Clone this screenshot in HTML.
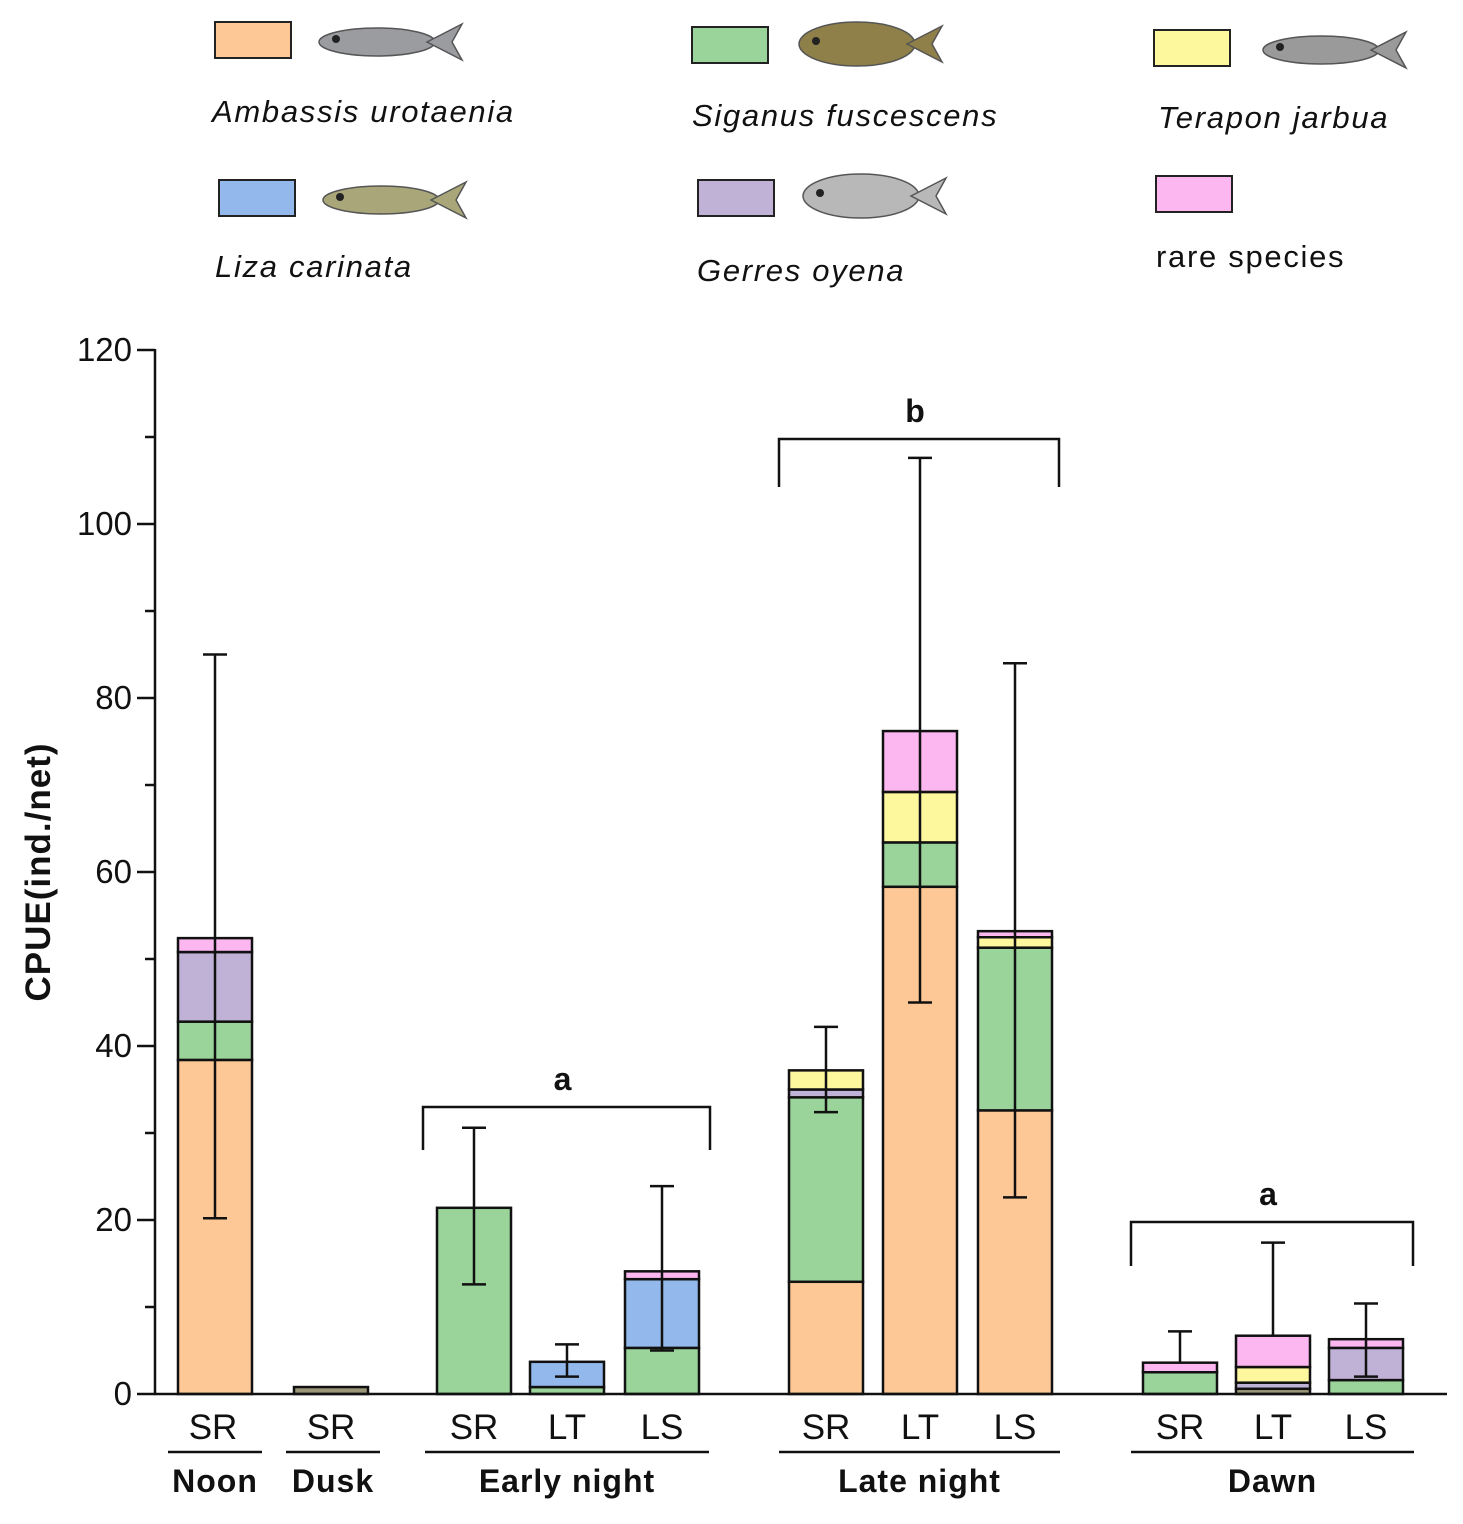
<!DOCTYPE html>
<html><head><meta charset="utf-8"><style>
body{margin:0;background:#fff;}
svg text{font-family:"Liberation Sans",Arial,sans-serif;}
</style></head><body>
<svg id="chart" width="1463" height="1519" viewBox="0 0 1463 1519" xmlns="http://www.w3.org/2000/svg">
<g id="legend"></g>
<g id="plot"></g>
</svg>
<script>
const categories = ["Noon SR","Dusk SR","Early SR","Early LT","Early LS","Late SR","Late LT","Late LS","Dawn SR","Dawn LT","Dawn LS"];
const seriesNames = ["Other","Ambassis urotaenia","Siganus fuscescens","Liza carinata","Gerres oyena","Terapon jarbua","rare species"];
const other    = [0,0.8,0,0,0,0,0,0,0,0.6,0];
const ambassis = [38.4,0,0,0,0,12.9,58.3,32.6,0,0,0];
const siganus  = [4.4,0,21.4,0.8,5.3,21.2,5.1,18.7,2.5,0,1.6];
const liza     = [0,0,0,2.9,7.9,0,0,0,0,0,0];
const gerres   = [8.0,0,0,0,0,0.9,0,0,0,0.7,3.7];
const terapon  = [0,0,0,0,0,2.2,5.8,1.2,0,1.8,0];
const rare     = [1.6,0,0,0,0.9,0,7.0,0.7,1.1,3.6,1.0];
const errLow   = [20.2,null,12.6,2.0,5.0,32.4,45.0,22.6,null,null,2.0];
const errHigh  = [85.0,null,30.6,5.7,23.9,42.2,107.6,84.0,7.2,17.4,10.4];
const yTicks   = [0,20,40,60,80,100,120];
const subLabels = ["SR","SR","SR","LT","LS","SR","LT","LS","SR","LT","LS"];

const colors=["#9a9677","#fdc896","#9bd49a","#92b8ec","#bfb2d6","#fdf79e","#fcb6f0"];
const seriesData=[other,ambassis,siganus,liza,gerres,terapon,rare];
const NS="http://www.w3.org/2000/svg";
const centers=[215,331,474,567,662,826,920,1015,1180,1273,1366];
const barW=74;
function y(v){return 1394-v*(1044/120);}
function el(tag,attrs,parent,text){const e=document.createElementNS(NS,tag);for(const k in attrs)e.setAttribute(k,attrs[k]);if(text!==undefined)e.textContent=text;parent.appendChild(e);return e;}
const plot=document.getElementById('plot');
const legend=document.getElementById('legend');

categories.forEach((c,i)=>{
  let base=0;
  seriesData.forEach((s,k)=>{
    const v=s[i]; if(!v) return;
    const r=el('rect',{x:centers[i]-barW/2,y:y(base+v),width:barW,height:y(base)-y(base+v),fill:colors[k],stroke:'#111','stroke-width':2.5},plot);
    
    
    base+=v;
  });
});
categories.forEach((c,i)=>{
  const hi=errHigh[i]; if(hi==null) return;
  let tot=0; seriesData.forEach(s=>tot+=s[i]);
  const lo=errLow[i]==null?tot:errLow[i];
  const g=el('g',{stroke:'#111','stroke-width':2.5},plot);
  
  
  el('line',{x1:centers[i],x2:centers[i],y1:y(hi),y2:y(lo)},g);
  el('line',{x1:centers[i]-12,x2:centers[i]+12,y1:y(hi),y2:y(hi)},g);
  if(errLow[i]!=null) el('line',{x1:centers[i]-12,x2:centers[i]+12,y1:y(lo),y2:y(lo)},g);
});
const ax=el('g',{stroke:'#111','stroke-width':2.5},plot);


el('line',{x1:155,x2:155,y1:349,y2:1395},ax);
el('line',{x1:154,x2:1447,y1:1394,y2:1394},ax);
for(let v=0;v<=120;v+=10){const big=v%20===0;el('line',{x1:big?137:145,x2:155,y1:y(v),y2:y(v)},ax);}
yTicks.forEach(v=>{const t=el('text',{x:132,y:y(v)+11,'text-anchor':'end','font-size':33,fill:'#111'},plot,String(v));
  });
const yt=el('text',{x:50,y:872,'text-anchor':'middle','font-size':35,'font-weight':'bold','letter-spacing':1,fill:'#111',transform:'rotate(-90 50 872)'},plot,'CPUE(ind./net)');

subLabels.forEach((s,i)=>{const t=el('text',{x:centers[i]-(i===0?2:0),y:1439,'text-anchor':'middle','font-size':35,fill:'#111'},plot,s);
  });
const groups=[["Noon",168,262],["Dusk",286,380],["Early night",425,709],["Late night",779,1060],["Dawn",1131,1414]];
groups.forEach(g=>{
  el('line',{x1:g[1],x2:g[2],y1:1452,y2:1452,stroke:'#111','stroke-width':2.5},plot);
  const t=el('text',{x:(g[1]+g[2])/2,y:1492,'text-anchor':'middle','font-size':32,'font-weight':'bold','letter-spacing':1,fill:'#111'},plot,g[0]);
  
});
[[423,710,1107,1150,'a'],[779,1059,439,487,'b'],[1131,1413,1222,1266,'a']].forEach(b=>{
  const g=el('g',{},plot);
  
  
  el('path',{d:`M${b[0]} ${b[3]} V${b[2]} H${b[1]} V${b[3]}`,fill:'none',stroke:'#111','stroke-width':2.5},g);
  el('text',{x:(b[0]+b[1])/2-4,y:b[2]-17,'text-anchor':'middle','font-size':32,'font-weight':'bold',fill:'#111'},g,b[4]);
});
const leg=[[215,22,1,"Ambassis urotaenia",212,122,true,322,42],[692,27,2,"Siganus fuscescens",692,126,true,802,44],[1154,30,5,"Terapon jarbua",1158,128,true,1266,50],
 [219,180,3,"Liza carinata",215,277,true,326,200],[698,180,4,"Gerres oyena",697,281,true,806,196],[1156,176,6,"rare species",1156,267,false,null,0]];
const fishCol={1:"#9a9ca0",2:"#8f7f48",5:"#9a9a9a",3:"#a9a77a",4:"#b8b8b8"};
leg.forEach(l=>{
  const g=el('g',{},legend);
  
  
  el('rect',{x:l[0],y:l[1],width:76,height:36,fill:colors[l[2]],stroke:'#222','stroke-width':2},g);
  el('text',{x:l[4],y:l[5],'font-size':31,'font-style':l[6]?'italic':'normal','letter-spacing':1.7,fill:'#111'},g,l[3]);
  if(l[7]){const fx=l[7],fy=l[8];
    el('ellipse',{cx:fx+55,cy:fy,rx:58,ry:l[2]==2||l[2]==4?22:14,fill:fishCol[l[2]],stroke:'#555','stroke-width':1.5},g);
    el('path',{d:`M${fx+105} ${fy} L${fx+140} ${fy-18} L${fx+130} ${fy} L${fx+140} ${fy+18} Z`,fill:fishCol[l[2]],stroke:'#555','stroke-width':1.5},g);
    el('circle',{cx:fx+14,cy:fy-3,r:4,fill:'#222'},g);}
});
</script>
</body></html>
